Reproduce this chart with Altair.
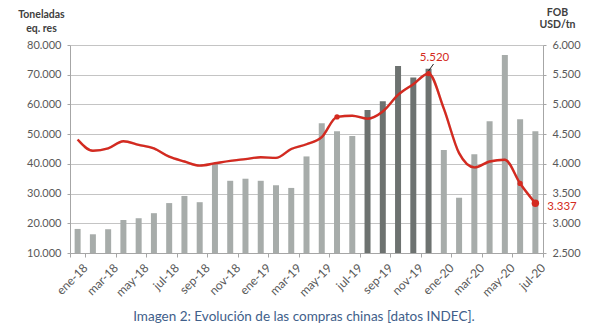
import altair as alt
import pandas as pd

meses = ["ene-18","feb-18","mar-18","abr-18","may-18","jun-18","jul-18","ago-18","sep-18","oct-18","nov-18","dic-18",
         "ene-19","feb-19","mar-19","abr-19","may-19","jun-19","jul-19","ago-19","sep-19","oct-19","nov-19","dic-19",
         "ene-20","feb-20","mar-20","abr-20","may-20","jun-20","jul-20"]
toneladas = [18100,16300,18000,21100,21700,23400,26800,29200,27100,40200,34300,35000,
             34300,32800,31900,42500,53700,51000,49400,58100,61100,72900,69100,72000,
             44700,28600,43200,54300,76600,55000,51000]
precio_fob = [4410,4220,4260,4380,4320,4260,4120,4040,3970,4010,4050,4080,
              4110,4100,4250,4330,4450,4790,4810,4760,4880,5160,5340,5520,
              4930,4180,3940,4040,4070,3670,3337]
oscuro = ["ago-19","sep-19","oct-19","nov-19","dic-19"]
marcados = ["jun-19","dic-19","jun-20"]
ultimo = "jul-20"
pico = "dic-19"
etiquetas_x = meses[::2]
caption = "Imagen 2: Evolución de las compras chinas [datos INDEC]."

df = pd.DataFrame({"mes": meses, "ton": toneladas, "precio": precio_fob})
df["tipo"] = ["oscuro" if m in oscuro else "claro" for m in meses]

RED = "#d42a20"
FONT = "Lato"
GRAY_TXT = "#595959"

x_axis = alt.Axis(values=etiquetas_x, tickBand="extent", labelAngle=-45, title=None,
                  grid=False, domainColor="#a6a6a6", tickColor="#a6a6a6", tickSize=4,
                  labelFontSize=12, labelColor=GRAY_TXT, labelFont=FONT, labelPadding=5,
                  labelOffset=4)
x_enc = alt.X("mes:N", sort=meses, axis=x_axis,
              scale=alt.Scale(paddingInner=0, paddingOuter=0))

left_axis = alt.Axis(values=list(range(10000, 80001, 10000)),
                     labelExpr="replace(format(datum.value, ',.0f'), ',', '.')",
                     grid=True, gridColor="#c4c4c4", domainColor="#a6a6a6", tickColor="#a6a6a6",
                     tickSize=3, labelPadding=6, labelFontSize=11, labelColor=GRAY_TXT, labelFont=FONT,
                     title=["Toneladas", "eq. res"], titleAngle=0, titleX=-29, titleY=-28,
                     titleAlign="center", titleBaseline="alphabetic", titleFontSize=10.5,
                     titleFontWeight="bold", titleColor="#404040", titleFont=FONT, titleLineHeight=14)

right_axis = alt.Axis(orient="right", values=list(range(2500, 6001, 500)),
                      labelExpr="replace(format(datum.value, ',.0f'), ',', '.')",
                      grid=False, domainColor="#a6a6a6", tickColor="#a6a6a6",
                      tickSize=3, labelPadding=6, labelFontSize=11, labelColor=GRAY_TXT, labelFont=FONT,
                      title=["FOB", "USD/tn"], titleAngle=0, titleX=14, titleY=-30,
                      titleAlign="center", titleBaseline="alphabetic", titleFontSize=10.5,
                      titleFontWeight="bold", titleColor="#404040", titleFont=FONT, titleLineHeight=12)

yscale_r = alt.Scale(domain=[2500, 6000], zero=False, nice=False)

bars = alt.Chart(df).mark_bar(size=6, clip=True).encode(
    x=x_enc,
    y=alt.Y("ton:Q", scale=alt.Scale(domain=[10000, 80000], zero=False, nice=False), axis=left_axis),
    color=alt.Color("tipo:N", scale=alt.Scale(domain=["claro", "oscuro"], range=["#a7acaa", "#6d7270"]), legend=None),
)

shadow = alt.Chart(df).mark_line(interpolate="monotone", color="#000000", opacity=0.12,
                                 strokeWidth=2.5, dy=1.5, dx=1).encode(
    x=x_enc, y=alt.Y("precio:Q", scale=yscale_r, axis=None))

line = alt.Chart(df).mark_line(interpolate="monotone", color=RED, strokeWidth=2.4).encode(
    x=x_enc,
    y=alt.Y("precio:Q", scale=yscale_r, axis=right_axis),
)

pts_small = alt.Chart(df[df["mes"].isin(marcados)]).mark_circle(color=RED, size=28, opacity=1).encode(
    x=x_enc, y=alt.Y("precio:Q", scale=yscale_r, axis=None))
pts_big = alt.Chart(df[df["mes"] == ultimo]).mark_circle(color=RED, size=55, opacity=1).encode(
    x=x_enc, y=alt.Y("precio:Q", scale=yscale_r, axis=None))

df_pico = df[df["mes"] == pico].copy()
df_pico["lbl"] = df_pico["precio"].map(lambda v: f"{v:,.0f}".replace(",", "."))
txt_pico = alt.Chart(df_pico).mark_text(color=RED, fontSize=11.5, font=FONT, dx=6, dy=-16,
                                        align="center", baseline="middle").encode(
    x=x_enc, y=alt.Y("precio:Q", scale=yscale_r, axis=None), text="lbl:N")

df_ult = df[df["mes"] == ultimo].copy()
df_ult["lbl"] = df_ult["precio"].map(lambda v: f"{v:,.0f}".replace(",", "."))
txt_ult = alt.Chart(df_ult).mark_text(color=RED, fontSize=11.5, font=FONT, dx=12, dy=4,
                                      align="left", baseline="middle").encode(
    x=x_enc, y=alt.Y("precio:Q", scale=yscale_r, axis=None), text="lbl:N")

leader = alt.Chart(pd.DataFrame({"a": [0]})).mark_rule(color="#222222", strokeWidth=1).encode(
    x=alt.value(358.5), x2=alt.value(363.5), y=alt.value(26), y2=alt.value(19))

cap = alt.Chart(pd.DataFrame({"t": [caption]})).mark_text(
    color="#41608a", fontSize=13.5, font=FONT, align="center", baseline="middle").encode(
    x=alt.value(234), y=alt.value(271.5), text="t:N")

chart = alt.layer(bars, shadow, line, pts_small, pts_big, txt_pico, txt_ult, leader, cap).resolve_scale(
    y="independent"
).properties(
    width=473, height=208,
    autosize=alt.AutoSizeParams(type="none"),
    padding={"left": 70, "top": 45, "right": 57, "bottom": 76},
    background="white",
).configure_view(stroke=None)

chart.save("out.html", embed_options={"renderer": "svg", "actions": False})
